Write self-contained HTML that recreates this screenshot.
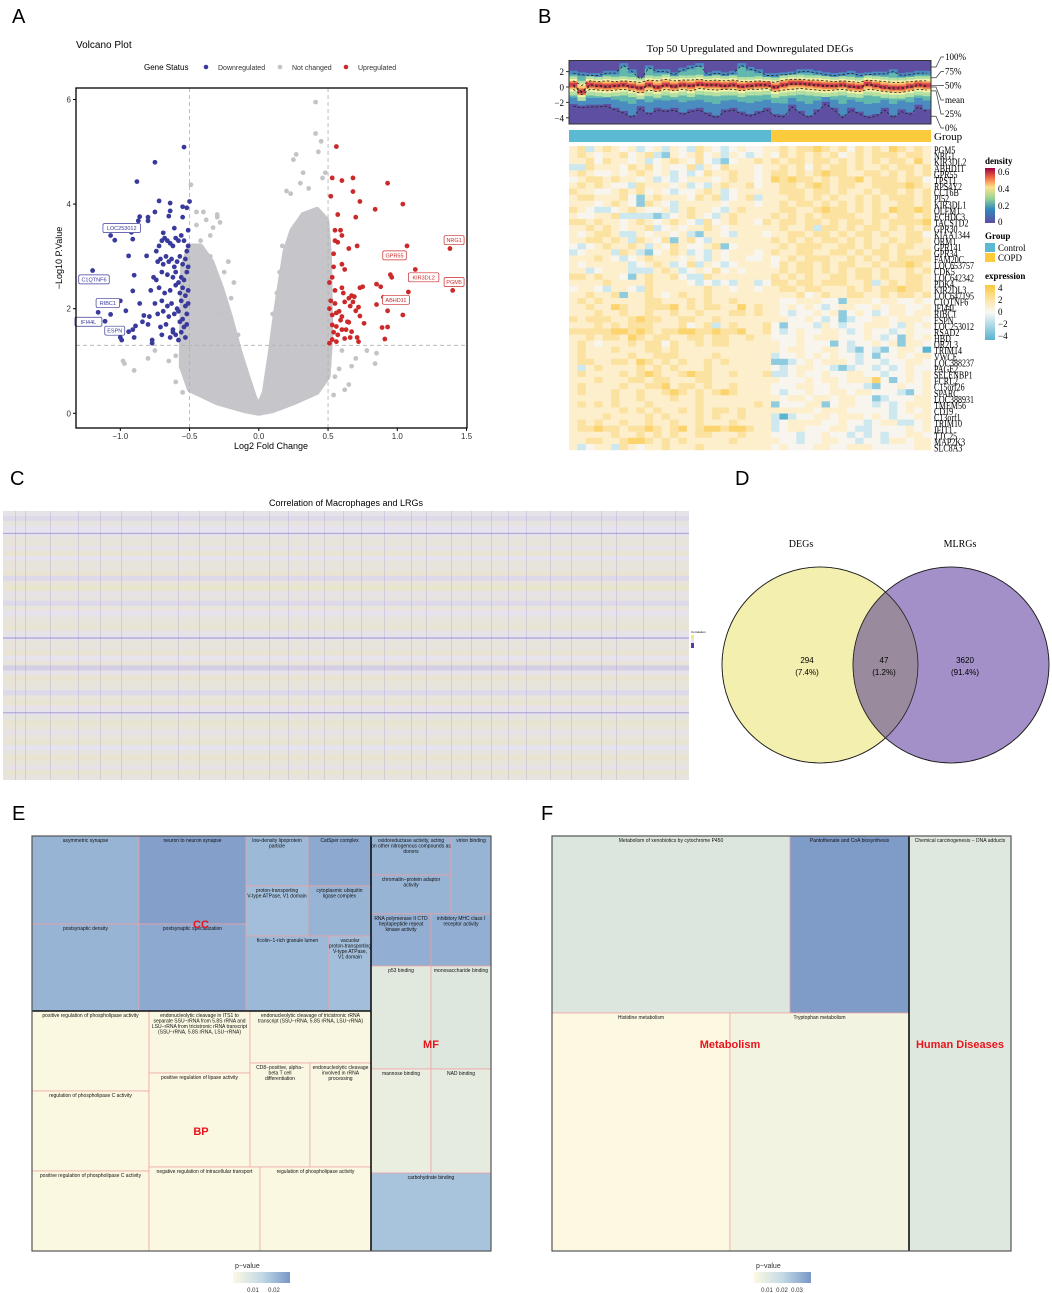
<!DOCTYPE html>
<html><head><meta charset="utf-8"><style>
html,body{margin:0;padding:0;background:#fff;}
svg{display:block;font-family:"Liberation Sans",sans-serif;}
.serif{font-family:"Liberation Serif",serif;}
</style></head><body>
<svg id="fig" width="1052" height="1293" viewBox="0 0 1052 1293" xmlns="http://www.w3.org/2000/svg">
<rect width="1052" height="1293" fill="#fff"/>
<text x="12" y="23" font-size="20">A</text>
<text x="538" y="23" font-size="20">B</text>
<text x="10" y="485" font-size="20">C</text>
<text x="735" y="485" font-size="20">D</text>
<text x="12" y="820" font-size="20">E</text>
<text x="541" y="820" font-size="20">F</text>
<g id="volcano"></g>
<g id="heatB"></g>
<g id="heatC"></g>
<g id="venn"></g>
<g id="treeE"></g>
<g id="treeF"></g>
</svg>
<script>
const NS="http://www.w3.org/2000/svg";
function mk(parent,tag,attrs,text){const e=document.createElementNS(NS,tag);for(const k in attrs)e.setAttribute(k,attrs[k]);if(text!==undefined)e.textContent=text;parent.appendChild(e);return e;}

/* ===== Panel A: volcano data ===== */
const downX=[-0.54,-0.75,-0.88,-0.72,-0.64,-0.5,-0.55,-0.52,-0.75,-0.64,-0.86,-0.8,-0.8,-0.87,-0.65,-0.55,-0.92,-1.07,-1.04,-0.91,-0.69,-0.61,-0.51,-0.94,-0.81,-1.2,-0.9,-0.91,-0.86,-1.0,-0.96,-1.07,-1.16,-1.11,-0.83,-0.89,-0.91,-0.94,-1.0,-0.9,-0.99,-0.77,-0.77,
-0.74,-0.72,-0.7,-0.68,-0.66,-0.64,-0.62,-0.6,-0.58,-0.56,-0.54,-0.52,-0.51,-0.73,-0.71,-0.69,-0.67,-0.65,-0.63,-0.61,-0.59,-0.57,-0.55,-0.53,-0.51,-0.76,-0.74,-0.7,-0.66,-0.62,-0.6,-0.58,-0.56,-0.54,-0.52,-0.78,-0.72,-0.68,-0.64,-0.6,-0.57,-0.55,-0.53,-0.51,-0.75,-0.7,-0.66,-0.63,-0.59,-0.56,-0.53,-0.51,-0.79,-0.73,-0.69,-0.65,-0.61,-0.58,-0.55,-0.52,-0.84,-0.8,-0.71,-0.67,-0.62,-0.57,-0.54,-0.52,-0.6,-0.64,-0.7,-0.56,-0.53,-0.58,-0.62];
const downY=[5.09,4.8,4.43,4.06,4.02,4.05,3.95,3.93,3.85,3.87,3.76,3.75,3.68,3.68,3.77,3.75,3.46,3.4,3.31,3.33,3.45,3.54,3.5,3.01,3.01,2.73,2.64,2.34,2.1,2.15,1.96,1.89,1.93,1.76,1.87,1.67,1.6,1.56,1.45,1.45,1.4,1.4,1.34,
3.1,3.2,3.3,3.35,3.3,3.25,3.2,3.35,3.3,3.4,3.3,3.1,3.2,2.9,2.95,2.85,3.0,2.9,2.95,2.8,2.9,3.0,2.85,2.95,2.8,2.6,2.55,2.7,2.65,2.6,2.7,2.5,2.6,2.55,2.7,2.35,2.4,2.3,2.35,2.45,2.3,2.4,2.25,2.35,2.1,2.15,2.05,2.1,2.0,2.15,2.05,2.1,1.85,1.9,1.95,1.85,1.9,1.95,1.8,1.9,1.75,1.7,1.65,1.7,1.6,1.75,1.65,1.7,1.5,1.45,1.5,1.55,1.45,1.4,1.55];
const upX=[0.56,0.53,0.68,0.93,0.6,0.68,0.52,0.73,1.04,0.84,0.57,0.7,0.55,0.59,0.6,0.55,0.57,0.65,0.71,1.07,1.38,0.54,0.6,0.54,0.62,1.13,0.95,0.96,0.53,0.51,0.85,0.88,0.75,0.73,1.4,1.08,0.6,0.61,0.55,0.9,0.67,0.65,0.69,0.62,0.68,0.55,0.85,0.72,0.51,0.7,0.93,0.56,0.53,1.04,0.73,0.59,0.65,0.76,0.53,0.56,0.89,0.93,0.6,0.63,0.67,0.57,0.66,0.71,0.91,0.53,0.56,0.62,0.72,0.51,0.52,0.58,0.64,0.54,0.6,0.66];
const upY=[5.1,4.5,4.5,4.4,4.45,4.24,4.15,4.05,4.0,3.9,3.8,3.75,3.5,3.5,3.4,3.3,3.27,3.15,3.2,3.2,3.15,3.05,2.85,2.8,2.75,2.75,2.65,2.6,2.6,2.5,2.47,2.42,2.42,2.4,2.35,2.32,2.4,2.3,2.35,2.22,2.25,2.2,2.23,2.13,2.13,2.1,2.08,2.03,2.0,1.96,1.96,1.92,1.88,1.88,1.86,1.78,1.74,1.72,1.69,1.66,1.64,1.65,1.6,1.6,1.56,1.5,1.45,1.45,1.42,1.41,1.37,1.43,1.37,1.34,2.15,1.95,1.75,1.55,1.85,2.05];
const greyX=[-0.49,-0.45,-0.4,-0.3,-0.3,-0.28,-0.45,-0.35,-0.25,-0.27,0.41,0.41,0.43,0.45,0.25,0.27,0.32,0.2,0.23,0.5,0.6,0.67,0.7,0.78,0.85,0.84,0.55,0.65,0.54,-0.98,-0.97,-0.9,-0.8,-0.75,-0.65,-0.6,-0.6,-0.55,0.46,0.48,0.3,0.36,-0.2,-0.15,-0.35,-0.42,-0.22,-0.18,-0.33,-0.38,0.15,0.13,0.17,0.1,0.58,0.62];
const greyY=[4.37,3.85,3.85,3.8,3.75,3.65,3.6,3.0,2.7,1.9,5.95,5.35,5.0,5.2,4.85,4.95,4.6,4.25,4.2,1.1,1.2,0.9,1.05,1.2,1.15,0.95,0.7,0.55,0.35,1.0,0.95,0.82,1.05,1.2,1.0,1.1,0.6,0.4,4.5,4.6,4.4,4.3,2.2,1.5,3.4,3.3,2.9,2.5,3.55,3.7,2.7,2.3,3.2,1.9,0.85,0.45];
const cloudX=[0,-0.1,-0.3,-0.5,-0.56,-0.55,-0.5,-0.42,-0.34,-0.27,-0.2,-0.14,-0.08,-0.03,0,0.04,0.08,0.12,0.16,0.19,0.24,0.32,0.42,0.49,0.51,0.52,0.5,0.42,0.25,0.1];
const cloudY=[0,0.05,0.2,0.45,0.9,2.8,3.2,3.2,2.9,2.4,1.8,1.2,0.7,0.3,0.15,0.4,1.1,1.9,2.6,3.1,3.5,3.8,3.9,3.7,3.0,1.5,0.7,0.4,0.2,0.05];
const xTicks=[-1.0,-0.5,0.0,0.5,1.0,1.5];
const yTicks=[0,2,4,6];
const geneLabels=["LOC253012","C1QTNF6","RIBC1","IFI44L","ESPN","NRG1","GPR55","KIR3DL2","PGM5","ABHD11"];
const geneLabelX=[-0.99,-1.19,-1.09,-1.23,-1.04,1.41,0.98,1.19,1.41,0.99];
const geneLabelY=[3.54,2.56,2.11,1.75,1.58,3.31,3.02,2.6,2.51,2.17];
const geneUp=[0,0,0,0,0,1,1,1,1,1];

(function(){
const g=document.getElementById('volcano');
const X=v=>258.8+v*138.5, Y=v=>413.3-v*52.3;
mk(g,'text',{x:76,y:48,'font-size':10,},'Volcano Plot');
const lg=mk(g,'g',{});
mk(lg,'text',{x:144,y:70,'font-size':8},'Gene Status');
[[206,'#3a3a9c','Downregulated'],[280,'#c4c4c8','Not changed'],[346,'#cc2a2a','Upregulated']].forEach(d=>{mk(lg,'circle',{cx:d[0],cy:67,r:2.3,fill:d[1]});mk(lg,'text',{x:d[0]+12,y:70,'font-size':7,fill:'#333'},d[2]);});
const env=mk(g,'polygon',{points:cloudX.map((v,i)=>X(v)+','+Y(cloudY[i])).join(' '),fill:'#c6c6ca',stroke:'#c6c6ca','stroke-width':5,'stroke-linejoin':'round'});


greyX.forEach((v,i)=>{const c=mk(g,'circle',{cx:X(v),cy:Y(greyY[i]),r:2.4,fill:'#c4c4c8'});});
[[X(-0.5),88,X(-0.5),428],[X(0.5),88,X(0.5),428],[76,Y(1.3),467,Y(1.3)]].forEach(l=>mk(g,'line',{x1:l[0],y1:l[1],x2:l[2],y2:l[3],stroke:'#b0b0b0','stroke-dasharray':'4,3','stroke-width':0.8}));
downX.forEach((v,i)=>{const c=mk(g,'circle',{cx:X(v),cy:Y(downY[i]),r:2.4,fill:'#3a3a9c'});});
upX.forEach((v,i)=>{const c=mk(g,'circle',{cx:X(v),cy:Y(upY[i]),r:2.4,fill:'#cc2a2a'});});
geneLabels.forEach((t,i)=>{const cx=X(geneLabelX[i]),cy=Y(geneLabelY[i]);const col=geneUp[i]?'#cc2a2a':'#3a3a9c';const w=t.length*3.5+6;
const b=mk(g,'g',{});
mk(b,'rect',{x:cx-w/2,y:cy-4.5,width:w,height:9,rx:1.5,fill:'#fff',stroke:col,'stroke-width':0.7});mk(b,'text',{x:cx,y:cy+2,'font-size':5.5,'text-anchor':'middle',fill:col},t);});
mk(g,'rect',{x:76,y:88,width:391,height:340,fill:'none',stroke:'#000','stroke-width':1.3,});
xTicks.forEach(v=>{mk(g,'line',{x1:X(v),y1:428,x2:X(v),y2:431,stroke:'#000'});const t=mk(g,'text',{x:X(v),y:439,'font-size':8,'text-anchor':'middle',fill:'#333'},v.toFixed(1).replace('-','\u2212'));});
yTicks.forEach(v=>{mk(g,'line',{x1:73,y1:Y(v),x2:76,y2:Y(v),stroke:'#000'});const t=mk(g,'text',{x:71,y:Y(v)+3,'font-size':8,'text-anchor':'end',fill:'#333'},v);});
mk(g,'text',{x:271,y:449,'font-size':9,'text-anchor':'middle',},'Log2 Fold Change');
mk(g,'text',{x:62,y:258,'font-size':9,'text-anchor':'middle',transform:'rotate(-90 62 258)',},'\u2212Log10 P.Value');
})();

/* ===== Panel B: heatmap data ===== */
const geneNames=["PGM5","NRG1","KIR3DL2","ABHD11","GPR55","TPST1","RPS4Y2","CCT6B","PI52","KIR3DL1","OLFM1","ECHDC3","TACSTD2","GPR30","KIAA1344","ORM1","GPR141","GPR34","FAM20C","LOC653757","CDK5","LOC642342","PDK4","KIR2DL3","LOC647195","C1QTNF6","IFI44L","RIBC1","ESPN","LOC253012","RSAD2","HBD","OR2L3","TRIM14","VWCE","LOC388237","PAGE2","SELENBP1","FCRL2","C15orf26","SPARC","LOC388931","TMEM56","CD19","C13orf1","TRIM10","IFIT1","TTC25","MAP2K3","SLC8A3"];
const exprRows=[
"efcefedecdecedcfedcdedde"+"efeffgfefdfefegfefe",
"efedeefdefcbedefdecedcde"+"dfefefefdefefffeffe",
"eefdfeedecdefedfdcbdeefe"+"feffeffefefefeffege",
"ccfeeedfefdeddfcedfeeede"+"efefdfeffefeefeffef",
"efeddedefedecdcdfeefeede"+"ffefefgffeeffefefef",
"deffefeedecdcdeeedefeede"+"gfgffefeffgefffeffd",
"efefeddcfeeedecdcefeefde"+"effefgfeffeeffffgfe",
"feeddefefdedcddefecdeeee"+"efffeffefeefeffefef",
"effeeefdbefeeedfefcdefce"+"eeffefefeefefefffef",
"eeedefedbfedceeeeedeeede"+"efeffefefefefeeffef",
"fedccdefeddecefeedcefeee"+"effeefgffefefegffgf",
"eddeefccccbcdefedcefeeee"+"fefefeffffeeffeffef",
"ffefeedefedefedcfdefeedf"+"effeffefeffefeffffg",
"eefefedeefcdedeefedeeeee"+"efeefcffefeffefefef",
"edeffeccedeedecbeedceeed"+"eeffeffefeffefeeffd",
"eeffefecfedfbefdceeeeeee"+"fefefeffefefeefeffe",
"dcdefeefecedfeddefbdeeee"+"efefffeeffefefeffee",
"cdeeecfecbdefecdcedeeede"+"feeffeeffefeffefeef",
"eeefedcdefeeededcedeedde"+"defefffeefefefeffff",
"edeeeeecdefecdfcedcdeeee"+"dfeffefeffeefeffgfe",
"eecdeeecccefecdedfdedeee"+"efeffefefeffefeefef",
"ffefeedbefeefdccfeeeeeee"+"fefefeeffeffefeeffe",
"eeeefeeeefeeeedcdcdceecd"+"ffeffefffeefcefeffe",
"deedceedcfeeeeeefeedeede"+"effeffeeefefeffgffe",
"eefeefbeefedefeefeeeeeee"+"eeefdefeeffeefeffef",
"efefeeeeeffeeefefeefeeee"+"eddeeeddbeeedeedded",
"eefeegfeefffgefeffeegefe"+"edededcdeeddedeedde",
"eeefeefeefeefeefeeeffefe"+"edcddedebdedcdeedee",
"fefffeefgffeeffeefeeeeee"+"eeddedcdbcddeedeeed",
"eeefefefffeeefdefcefeeef"+"dbdddcedcddeeedcede",
"fffffggfgfeffggffgffgeef"+"dcdeddeedcdeddcdedd",
"eefeffegfeffeeffeffeefee"+"dddedeeedddedcdbede",
"efedeeefeffdfeefeffeeeee"+"eddedddbdcddedebeed",
"efeeefeeeffefeeeeeeeeeee"+"edeeddeedcbdcbdeeda",
"efeeeeefeefffeeeefeeeeee"+"cddedededdcdbddedee",
"effeeffegfefefeefefeeeee"+"bbcdedeeedcddcddeed",
"ecefeeeefefefeeefeeeeeee"+"dcdeeddcbcddcdcdedd",
"efeeeefefgfeefgffeefeeef"+"ccdeddeddeeddcddede",
"eeefeeeffeffeeeffeeeeeee"+"edddedeedeeegdbdede",
"efeeeefeeffgeffefeefeeee"+"dddeeddedddcbddedde",
"efeeefeefeefgfefefgfeeee"+"dcddeddeedeedddcbde",
"eeeeefeefeeefeefeeeeeeee"+"edeedeedeeddbcdddee",
"efefefeeefeeeeefeeeeeefe"+"bdddeebdeeddcdcdeee",
"eeeeeefefefeefefeffefeee"+"eeeeedeeedddddcdede",
"eeeefeeeefefeeefefeefeee"+"cacddeedeeededcddee",
"efefeefeefeefeefeeefeeee"+"cdeeeeddeddcdeeccde",
"effgffeffgfefgefggfggfee"+"cdeedddeedccddddede",
"eeeeefeefefefeeffeeefeee"+"dddcddeddcdcdcddeed",
"eeffeefggfefefeeeeefeeee"+"eddcddeeddcddceedee",
"ecdeecfedeefeeefeeeeeeee"+"dedddeeddeeedddddee"];
const groupCounts=[24,19];
const groupNames=["Control","COPD"];
const densMed=[0.3,-0.6,0.3,0.2,0.1,0.2,0.3,0.1,-0.1,0.3,0.0,0.3,0.1,0.3,0.2,0.4,0.3,0.3,0.2,0.3,0.1,0.2,0.3,0.3,0.0,0.3,0.5,0.5,0.4,0.3,0.2,0.2,0.3,0.1,0.0,0.4,0.2,0.0,-0.1,-0.1,0.1,0.3,0.2];
const densQ75=[0.8,0.2,0.8,0.7,0.8,0.7,0.8,0.7,0.6,0.9,0.8,1.0,0.8,0.9,0.9,1.0,0.8,0.9,0.8,0.9,0.7,0.7,0.8,0.7,0.6,0.9,1.0,1.0,0.9,0.9,0.8,0.7,0.8,0.7,0.6,0.9,0.8,0.7,0.6,0.6,0.7,0.8,0.8];
const densQ25=[-0.3,-1.0,-0.3,-0.4,-0.5,-0.4,-0.3,-0.5,-0.8,-0.4,-0.6,-0.3,-0.5,-0.3,-0.5,-0.2,-0.3,-0.4,-0.3,-0.3,-0.5,-0.3,-0.3,-0.2,-0.6,-0.4,-0.3,-0.2,-0.3,-0.4,-0.5,-0.4,-0.3,-0.5,-0.6,-0.3,-0.4,-0.6,-0.7,-0.7,-0.5,-0.3,-0.4];
const densMax=[1.8,1.6,1.5,1.5,1.8,1.8,2.8,2.0,1.0,2.5,2.0,2.0,1.6,2.2,2.5,2.8,1.6,1.8,1.6,1.8,2.8,2.3,2.0,1.5,1.5,1.6,1.7,2.0,2.0,1.8,1.6,1.5,1.6,1.8,1.5,1.6,1.7,1.7,2.0,1.5,1.6,1.8,1.8];
const densMin=[-2.5,-2.7,-2.6,-2.6,-2.5,-3.0,-3.4,-4.0,-2.8,-3.6,-3.0,-3.2,-3.0,-3.6,-3.2,-3.0,-3.6,-4.0,-3.2,-3.0,-3.5,-3.8,-3.4,-3.0,-3.8,-3.9,-2.6,-3.4,-4.0,-3.2,-2.2,-3.0,-4.0,-3.0,-3.5,-4.0,-3.8,-3.0,-4.0,-3.2,-3.6,-2.6,-3.2];
const densTicks=[2,0,-2,-4];

(function(){
const g=document.getElementById('heatB');
const x0=569,x1=931,nc=43,cw=(x1-x0)/nc,y0=146,y1=450,rh=(y1-y0)/50;
const dy=v=>87-v*7.7;
mk(g,'text',{x:750,y:52,'font-size':11,'text-anchor':'middle',class:'serif',},'Top 50 Upregulated and Downregulated DEGs');
const dg=mk(g,'g',{});
mk(dg,'rect',{x:x0,y:60.5,width:x1-x0,height:63.5,fill:'#5e4fa2'});
const clip=mk(dg,'clipPath',{id:'dclip'});mk(clip,'rect',{x:x0,y:60.5,width:x1-x0,height:63.5});
const dc=mk(dg,'g',{'clip-path':'url(#dclip)'});
densMed.forEach((m,i)=>{const x=x0+i*cw;
const bands=[[densMax[i]+0.3,densMin[i]+0.3,'#4a8cc0'],[densMax[i]-0.2,densMin[i]*0.55,'#63b8ad'],[densQ75[i]+0.6,densQ25[i]-0.8,'#b2dfa2'],[densQ75[i]+0.25,densQ25[i]-0.3,'#f3f2a8'],[densQ75[i],densQ25[i],'#fdc873'],[m+0.45,m-0.45,'#f08a4e'],[m+0.25,m-0.25,'#d43d4f']];
bands.forEach(b=>{const r=mk(dc,'rect',{x:x,y:dy(b[0]),width:cw+0.3,height:dy(b[1])-dy(b[0]),fill:b[2]});});});
const dash=(arr,name)=>{const p=mk(dc,'polyline',{points:arr.map((v,i)=>(x0+(i+0.5)*cw)+','+dy(v)).join(' '),fill:'none',stroke:'#222','stroke-width':0.8,'stroke-dasharray':'2.5,2'});};
dash(densMax,'quantile-100');dash(densQ75,'quantile-75');dash(densMed,'quantile-50');dash(densQ25,'quantile-25');dash(densMin,'quantile-0');
dash(densMed.map((m,i)=>m-0.15),'mean-line');
mk(dg,'rect',{x:x0,y:60.5,width:x1-x0,height:63.5,fill:'none',stroke:'#333','stroke-width':1});
densTicks.forEach(v=>{mk(dg,'line',{x1:x0-3,y1:dy(v),x2:x0,y2:dy(v),stroke:'#333'});mk(dg,'text',{x:x0-5,y:dy(v)+3.5,'font-size':9,'text-anchor':'end',class:'serif'},String(v).replace('-','\u2212'));});
const qlab=[['100%',57,dy(2.6)],['75%',71.5,dy(1.2)],['50%',85.5,dy(0.2)],['mean',100,dy(0.0)],['25%',114,dy(-0.5)],['0%',128,dy(-3.8)]];
qlab.forEach(q=>{mk(dg,'polyline',{points:`${x1},${q[2]} ${x1+5},${q[2]} ${x1+10},${q[1]} ${x1+13},${q[1]}`,fill:'none',stroke:'#333','stroke-width':0.7});mk(dg,'text',{x:x1+14,y:q[1]+3,'font-size':9,class:'serif'},q[0]);});
let c=0;const gcol=['#5cb9d2','#fbcb3c'];
groupCounts.forEach((n,k)=>{const r=mk(g,'rect',{x:x0+c*cw,y:130,width:n*cw,height:12,fill:gcol[k]});c+=n;});
mk(g,'text',{x:x1+3,y:140,'font-size':11,class:'serif'},'Group');
const ecol={a:'#5ab3cf',b:'#8ecbdf',c:'#cde8ef',d:'#f7f5ee',e:'#fdefcc',f:'#fce2a0',g:'#fcd46e',h:'#fbc93b'};
exprRows.forEach((s,r)=>{for(let j=0;j<nc;j++){const ch=s[j]||'e';const rc=mk(g,'rect',{x:x0+j*cw,y:y0+r*rh,width:cw+0.2,height:rh+0.2,fill:ecol[ch]});}
const t=mk(g,'text',{x:0,y:y0+r*rh+rh+1.5,'font-size':10,class:'serif',transform:`translate(${x1+3},0) scale(0.8,1)`},geneNames[r]);});
/* legends */
const lg=mk(g,'g',{});
const defs=mk(lg,'defs',{});
const gd=mk(defs,'linearGradient',{id:'gdens',x1:0,y1:1,x2:0,y2:0});[['0','#5e4fa2'],['0.25','#3288bd'],['0.45','#99d594'],['0.65','#fee08b'],['0.82','#f46d43'],['1','#9e0142']].forEach(s=>mk(gd,'stop',{offset:s[0],'stop-color':s[1]}));
const ge=mk(defs,'linearGradient',{id:'gexpr',x1:0,y1:1,x2:0,y2:0});[['0','#5ab3cf'],['0.3','#b5dde8'],['0.5','#f8f8f4'],['0.75','#fde3a0'],['1','#fbc83a']].forEach(s=>mk(ge,'stop',{offset:s[0],'stop-color':s[1]}));
mk(lg,'text',{x:985,y:164,'font-size':9,'font-weight':'bold',class:'serif'},'density');
mk(lg,'rect',{x:985,y:168,width:10,height:55,fill:'url(#gdens)'});
[['0.6',172],['0.4',189],['0.2',206],['0',222]].forEach(t=>mk(lg,'text',{x:998,y:t[1]+3,'font-size':9,class:'serif'},t[0]));
mk(lg,'text',{x:985,y:239,'font-size':9,'font-weight':'bold',class:'serif'},'Group');
mk(lg,'rect',{x:985,y:243,width:10,height:9,fill:'#5cb9d2'});mk(lg,'text',{x:998,y:251,'font-size':9,class:'serif'},'Control');
mk(lg,'rect',{x:985,y:253,width:10,height:9,fill:'#fbcb3c'});mk(lg,'text',{x:998,y:261,'font-size':9,class:'serif'},'COPD');
mk(lg,'text',{x:985,y:279,'font-size':9,'font-weight':'bold',class:'serif'},'expression');
mk(lg,'rect',{x:985,y:285,width:10,height:55,fill:'url(#gexpr)'});
[['4',288],['2',300],['0',312],['\u22122',324],['\u22124',336]].forEach(t=>mk(lg,'text',{x:998,y:t[1]+3,'font-size':9,class:'serif'},t[0]));
})();

/* ===== Panel C: correlation heatmap data ===== */
const corrRows=[0.1,-0.1,0.2,0.0,-0.6,0.2,0.3,0.1,0.4,0.0,0.3,0.2,0.4,-0.1,0.3,0.5,0.1,0.2,-0.1,0.3,0.0,0.2,0.3,0.4,0.1,-0.7,0.3,0.2,0.4,0.0,0.3,-0.2,0.1,0.4,0.3,0.2,-0.1,0.3,0.4,0.1,-0.6,0.2,0.4,0.3,0.1,0.3,0.4,0.0,0.2,0.4,0.3,0.1,0.4,0.2];
const corrCols=[12,22,47,75,97,118,148,175,196,222,240,266,285,305,321,340,358,381,408,423,448,468,488,505,523,547,568,598,613,640,672];

(function(){
const g=document.getElementById('heatC');
const x0=3,x1=689,y0=511,y1=780,rh=(y1-y0)/corrRows.length;
mk(g,'text',{x:346,y:506,'font-size':9,'text-anchor':'middle',},'Correlation of Macrophages and LRGs');
mk(g,'rect',{x:x0,y:y0,width:x1-x0,height:y1-y0,fill:'#e6e2ee'});
const col=v=>v>0?`rgba(238,234,150,${Math.min(1,v*0.8)})`:`rgba(110,90,180,${Math.min(1,-v*0.7)})`;
corrRows.forEach((v,i)=>{const h=v<-0.3?1.2:rh;const r=mk(g,'rect',{x:x0,y:y0+i*rh+(rh-h)/2,width:x1-x0,height:h,fill:col(v)});});
corrCols.forEach(c=>{const l=mk(g,'rect',{x:x0+c,y:y0,width:0.7,height:y1-y0,fill:'rgba(140,120,190,0.3)'});});
const lg=mk(g,'g',{});
mk(lg,'text',{x:691,y:633,'font-size':3},'Correlation');
mk(lg,'rect',{x:691,y:635,width:3,height:4,fill:'#f0ec80'});mk(lg,'rect',{x:691,y:639,width:3,height:4,fill:'#e8e4ee'});mk(lg,'rect',{x:691,y:643,width:3,height:5,fill:'#5a3aa8'});
})();

/* ===== Panel D: venn data ===== */
const vennSets=["DEGs","MLRGs"];
const vennCounts=[294,47,3620];
(function(){
const g=document.getElementById('venn');
const total=vennCounts.reduce((a,b)=>a+b,0);
const a=mk(g,'circle',{cx:820,cy:665,r:98,fill:'#f3efae',stroke:'#222','stroke-width':0.8});
const b=mk(g,'circle',{cx:951,cy:665,r:98,fill:'#a390c8',stroke:'#222','stroke-width':0.8});
const cp=mk(g,'clipPath',{id:'vclip'});mk(cp,'circle',{cx:820,cy:665,r:98});
mk(g,'circle',{cx:951,cy:665,r:98,fill:'#9a8a9e','clip-path':'url(#vclip)',});
mk(g,'circle',{cx:820,cy:665,r:98,fill:'none',stroke:'#222','stroke-width':0.8});
mk(g,'circle',{cx:951,cy:665,r:98,fill:'none',stroke:'#222','stroke-width':0.8});
mk(g,'text',{x:801,y:547,'font-size':10,'text-anchor':'middle',class:'serif',},vennSets[0]);
mk(g,'text',{x:960,y:547,'font-size':10,'text-anchor':'middle',class:'serif',},vennSets[1]);
[807,884,965].forEach((x,i)=>{const t1=mk(g,'text',{x:x,y:663,'font-size':8,'text-anchor':'middle'},vennCounts[i]);
mk(g,'text',{x:x,y:675,'font-size':8,'text-anchor':'middle'},'('+(vennCounts[i]/total*100).toFixed(1)+'%)');});
})();

/* ===== Panels E/F: treemaps ===== */
const eTerms=["asymmetric synapse","postsynaptic density","neuron to neuron synapse","postsynaptic specialization","low-density lipoprotein particle","CatSper complex","proton-transporting V-type ATPase, V1 domain","cytoplasmic ubiquitin ligase complex","ficolin\u22121-rich granule lumen","vacuolar proton-transporting V-type ATPase, V1 domain",
"positive regulation of phospholipase activity","regulation of phospholipase C activity","positive regulation of phospholipase C activity","endonucleolytic cleavage in ITS1 to separate SSU\u2212rRNA from 5.8S rRNA and LSU\u2212rRNA from tricistronic rRNA transcript (SSU\u2212rRNA, 5.8S rRNA, LSU\u2212rRNA)","positive regulation of lipase activity","endonucleolytic cleavage of tricistronic rRNA transcript (SSU\u2212rRNA, 5.8S rRNA, LSU\u2212rRNA)","CD8\u2212positive, alpha\u2212 beta T cell differentiation","endonucleolytic cleavage involved in rRNA processing","negative regulation of intracellular transport","regulation of phospholipase activity",
"oxidoreductase activity, acting on other nitrogenous compounds as donors","chromatin\u2212protein adaptor activity","virion binding","RNA polymerase II CTD heptapeptide repeat kinase activity","inhibitory MHC class I receptor activity","p53 binding","monosaccharide binding","mannose binding","NAD binding","carbohydrate binding"];
const ePvals=[0.019,0.019,0.023,0.021,0.018,0.021,0.017,0.019,0.018,0.017,0.0005,0.0005,0.0005,0.001,0.0005,0.001,0.001,0.001,0.0005,0.0005,0.019,0.019,0.019,0.02,0.02,0.007,0.008,0.005,0.006,0.016];
const eBoxes=[[32,836,107,88],[32,924,107,87],[139,836,107,88],[139,924,107,87],[246,836,62,50],[308,836,63,50],[246,886,62,50],[308,886,63,50],[246,936,83,75],[329,936,42,75],
[32,1011,117,80],[32,1091,117,80],[32,1171,117,80],[149,1011,101,62],[149,1073,101,94],[250,1011,121,52],[250,1063,60,104],[310,1063,61,104],[149,1167,111,84],[260,1167,111,84],
[371,836,80,39],[371,875,80,39],[451,836,40,78],[371,914,60,52],[431,914,60,52],[371,966,60,103],[431,966,60,103],[371,1069,60,104],[431,1069,60,104],[371,1173,120,78]];
const fTerms=["Metabolism of xenobiotics by cytochrome P450","Pantothenate and CoA biosynthesis","Histidine metabolism","Tryptophan metabolism","Chemical carcinogenesis \u2212 DNA adducts"];
const fPvals=[0.012,0.034,0.0005,0.004,0.011];
const fBoxes=[[552,836,238,177],[790,836,119,177],[552,1013,178,238],[730,1013,179,238],[909,836,102,415]];

function pcol(p,max){const t=Math.max(0,Math.min(1,p/max));const s=[[253,249,226],[220,230,222],[164,192,220],[120,148,196]];const f=t*3,i=Math.min(2,Math.floor(f)),u=f-i;return 'rgb('+s[i].map((v,k)=>Math.round(v+(s[i+1][k]-v)*u)).join(',')+')';}
function wrapText(g,txt,cx,y,w,fs){const words=txt.split(' ');const lines=[];let cur='';const cpw=fs*0.46;words.forEach(wd=>{const t=cur?cur+' '+wd:wd;if(t.length*cpw>w-3&&cur){lines.push(cur);cur=wd;}else cur=t;});if(cur)lines.push(cur);lines.forEach((l,i)=>mk(g,'text',{x:cx,y:y+i*fs*1.1,'font-size':fs,'text-anchor':'middle',fill:'#111'},l));}
function treemap(gid,terms,pv,boxes,maxP,outer,dividers,groups,legX,legTicks){
const g=document.getElementById(gid);
boxes.forEach((b,i)=>{const cell=mk(g,'g',{});
mk(cell,'rect',{x:b[0],y:b[1],width:b[2],height:b[3],fill:pcol(pv[i],maxP),stroke:'#f0a0a0','stroke-width':0.7});
wrapText(cell,terms[i],b[0]+b[2]/2,b[1]+6,b[2],5);});
dividers.forEach(d=>mk(g,'line',{x1:d[0],y1:d[1],x2:d[2],y2:d[3],stroke:'#111','stroke-width':1.6}));
mk(g,'rect',{x:outer[0],y:outer[1],width:outer[2],height:outer[3],fill:'none',stroke:'#555','stroke-width':1.2});
groups.forEach(gr=>{const t=mk(g,'text',{x:gr[1],y:gr[2],'font-size':11,'font-weight':'bold','text-anchor':'middle',fill:'#e8141c'},gr[0]);});
const lg=mk(g,'g',{});
const gid2='grad'+gid;const gr=mk(lg,'linearGradient',{id:gid2,x1:0,y1:0,x2:1,y2:0});[['0','#fdf9e2'],['0.5','#c4dae6'],['1','#7896c8']].forEach(s=>mk(gr,'stop',{offset:s[0],'stop-color':s[1]}));
mk(lg,'text',{x:legX+2,y:1268,'font-size':7,fill:'#333'},'p\u2212value');
mk(lg,'rect',{x:legX,y:1272,width:57,height:11,fill:'url(#'+gid2+')'});
legTicks.forEach(t=>mk(lg,'text',{x:t[1],y:1292,'font-size':6,'text-anchor':'middle',fill:'#333'},t[0]));}
treemap('treeE',eTerms,ePvals,eBoxes,0.025,[32,836,459,415],[[32,1011,371,1011],[371,836,371,1251]],[['CC',201,928],['BP',201,1135],['MF',431,1048]],233,[['0.01',253],['0.02',274]]);
treemap('treeF',fTerms,fPvals,fBoxes,0.036,[552,836,459,415],[[909,836,909,1251]],[['Metabolism',730,1048],['Human Diseases',960,1048]],754,[['0.01',767],['0.02',782],['0.03',797]]);
</script>
</body></html>
